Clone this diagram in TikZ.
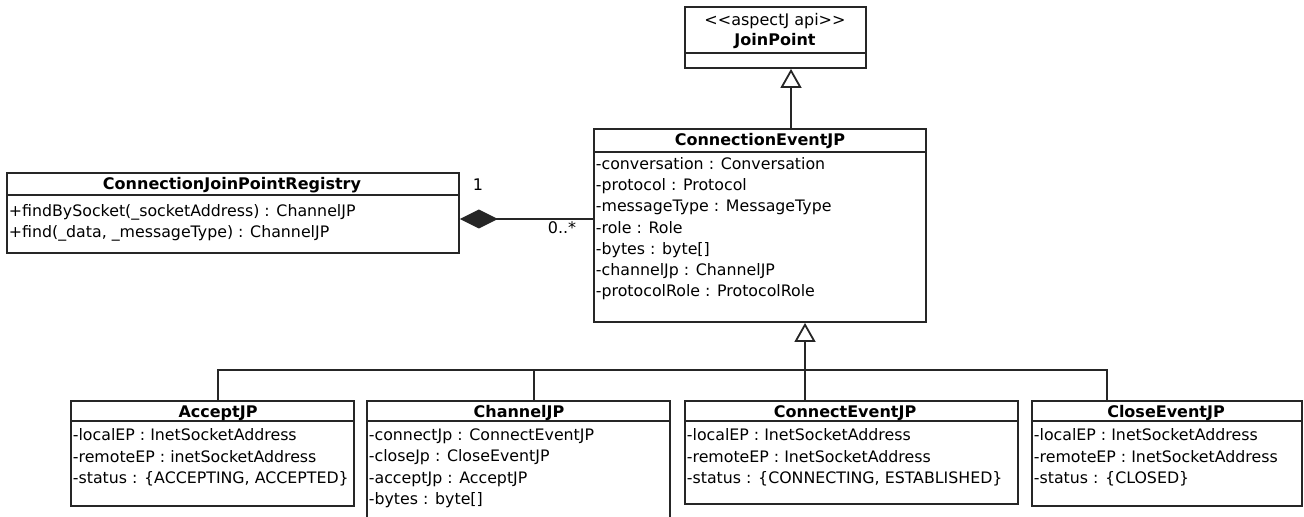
\documentclass[tikz,border=0pt]{standalone}
\usepackage{fontspec}
\setmainfont{DejaVu Sans}
\usetikzlibrary{arrows.meta,fit}

\tikzset{
  umlbox/.style={draw=black!85, line width=0.9pt, inner sep=0pt},
  divider/.style={draw=black!85, line width=0.9pt},
  link/.style={draw=black!85, line width=0.9pt},
  classname/.style={font=\fontsize{8}{10.5}\selectfont\bfseries, anchor=base, inner sep=0pt},
  members/.style={font=\fontsize{7.9}{10.6}\selectfont, align=left, anchor=north west, inner sep=0pt},
  mult/.style={font=\fontsize{8}{10.5}\selectfont, inner sep=0pt},
  inherit/.style={link, -{Triangle[open,length=9.5pt,width=10.5pt]}},
  composite/.style={link, {Diamond[length=19pt,width=9.5pt]}-},
}

\begin{document}
\begin{tikzpicture}[x=0.5pt,y=-0.5pt]
\useasboundingbox (0,0) rectangle (1304,517);

% JoinPoint
\node[umlbox, fit={(685,7) (866,68)}] (joinpoint) {};
\draw[divider] (joinpoint.west |- 0,53) -- (joinpoint.east |- 0,53);
\node[classname, font=\fontsize{8}{10.5}\selectfont] (jp-stereo) at (775,26) {<\kern0pt<aspectJ api>\kern0pt>};
\node[classname] (jp-name) at (775,45.5) {JoinPoint};

% ConnectionEventJP
\node[umlbox, fit={(594,129) (926,322)}] (connev) {};
\draw[divider] (connev.west |- 0,152) -- (connev.east |- 0,152);
\node[classname] (connev-name) at (760,146) {ConnectionEventJP};
\node[members] (connev-attr) at (595.5,157) {-conversation : Conversation\\-protocol : Protocol\\-messageType : MessageType\\-role : Role\\-bytes : byte[]\\-channelJp : ChannelJP\\-protocolRole : ProtocolRole};

% ConnectionJoinPointRegistry
\node[umlbox, fit={(7,173) (459,253)}] (registry) {};
\draw[divider] (registry.west |- 0,195) -- (registry.east |- 0,195);
\node[classname] (registry-name) at (232,189.5) {ConnectionJoinPointRegistry};
\node[members] (registry-ops) at (8.5,204) {+findBySocket(\_socketAddress) : ChannelJP\\+find(\_data, \_messageType) : ChannelJP};

% subclasses
\node[umlbox, fit={(71,401) (354,506)}] (accept) {};
\draw[divider] (accept.west |- 0,421) -- (accept.east |- 0,421);
\node[classname] (accept-name) at (218,417) {AcceptJP};
\node[members] (accept-attr) at (72.5,428.5) {-localEP : InetSocketAddress\\-remoteEP : inetSocketAddress\\-status : \{ACCEPTING, ACCEPTED\}};

\node[umlbox, fit={(367,401) (670,522)}] (channel) {};
\draw[divider] (channel.west |- 0,421) -- (channel.east |- 0,421);
\node[classname] (channel-name) at (519,417) {ChannelJP};
\node[members] (channel-attr) at (368.5,428.5) {-connectJp : ConnectEventJP\\-closeJp : CloseEventJP\\-acceptJp : AcceptJP\\-bytes : byte[]};

\node[umlbox, fit={(685,401) (1018,504)}] (connect) {};
\draw[divider] (connect.west |- 0,421) -- (connect.east |- 0,421);
\node[classname] (connect-name) at (845,417) {ConnectEventJP};
\node[members] (connect-attr) at (686.5,428.5) {-localEP : InetSocketAddress\\-remoteEP : InetSocketAddress\\-status : \{CONNECTING, ESTABLISHED\}};

\node[umlbox, fit={(1032,401) (1302,506)}] (close) {};
\draw[divider] (close.west |- 0,421) -- (close.east |- 0,421);
\node[classname] (close-name) at (1166,417) {CloseEventJP};
\node[members] (close-attr) at (1033.5,428.5) {-localEP : InetSocketAddress\\-remoteEP : InetSocketAddress\\-status : \{CLOSED\}};

% generalisation JoinPoint <- ConnectionEventJP
\coordinate (gen-top) at (791,100);
\draw[inherit] (gen-top |- connev.north) -- (gen-top |- joinpoint.south);

% registry owns the events
\coordinate (owns) at (500,219);
\draw[composite] (owns -| registry.east) -- (owns -| connev.west);
\node[mult] (mult-one) at (478,185) {1};
\node[mult] (mult-many) at (562,228) {0..*};

% subclasses hang off one bus
\coordinate (bus-a) at (218,370);
\coordinate (bus-b) at (534,370);
\coordinate (bus-c) at (805,370);
\coordinate (bus-d) at (1107,370);
\draw[link] (bus-a |- accept.north) -- (bus-a) -- (bus-d) -- (bus-d |- close.north);
\draw[link] (bus-b) -- (bus-b |- channel.north);
\draw[link] (bus-c |- connect.north) -- (bus-c);
\draw[inherit] (bus-c) -- (bus-c |- connev.south);
\end{tikzpicture}
\end{document}
